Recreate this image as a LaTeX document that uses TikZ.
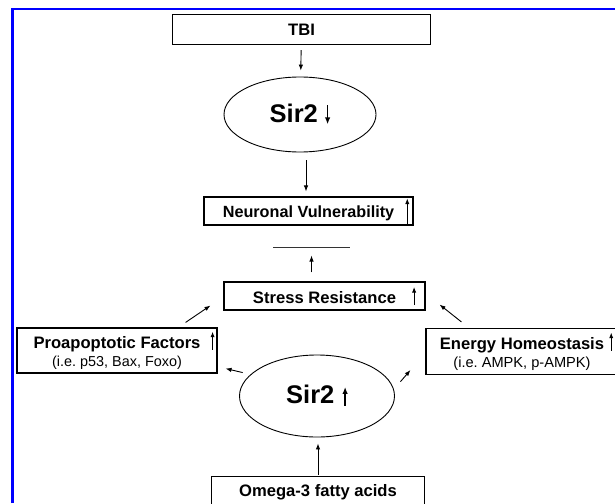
\documentclass[tikz,border=0pt]{standalone}
\usepackage{fontspec}
\setmainfont{Liberation Sans}
\usetikzlibrary{arrows,calc,arrows.meta,positioning,shapes.geometric}

% small arrow set inside a label
\newcommand{\upmark}[3][0.8pt]{\tikz[baseline=0pt]\draw[-{Latex[length=5.5pt,width=4.2pt]},line width=#1] (0pt,#2) -- (0pt,#3);}
\newcommand{\sirmark}[2]{\tikz[baseline=0pt]\draw[-{Latex[length=7pt,width=5.5pt]},line width=1.4pt] (0pt,#1) -- (0pt,#2);}

\begin{document}
\frenchspacing
\begin{tikzpicture}[>=latex, x=1pt, y=-1pt]
        \tikzset{
            box/.style={draw, line width=1.1pt, inner sep=0pt, align=center,
                font=\bfseries\fontsize{16.6}{18}\selectfont},
            oval/.style={draw, ellipse, line width=0.9pt, inner sep=0pt,
                font=\bfseries\fontsize{25.5}{28}\selectfont},
            conn/.style={-{Latex[length=6pt,width=4.5pt]}, line width=0.9pt}
        }
        \useasboundingbox (0,0) rectangle (615,503);
        \draw[blue, line width=2.6pt] (12.2,503) -- (12.2,9.2) -- (615,9.2);

        \node[box, minimum width=258pt, minimum height=30pt] (tbi) at (301.5,29.5) {TBI};
        \node[oval, minimum width=152pt, minimum height=75pt] (sirdown) at ($(tbi)+(-1.5,85)$)
            {Sir2\hspace{7pt}\sirmark{17pt}{-2pt}};
        \node[box, font=\bfseries\fontsize{16.2}{18}\selectfont, minimum width=209pt, minimum height=28pt]
            (neuro) at (308.5,211) {Neuronal Vulnerability\rlap{\hspace{11pt}\upmark{-6pt}{19pt}}};
        \node[box, minimum width=201pt, minimum height=28pt] (stress) at (324.5,296)
            {Stress Resistance\rlap{\hspace{16pt}\upmark{-2pt}{16pt}}};

        \node[box, minimum width=200pt, minimum height=45pt] (proapo) at (117,350.5)
            {Proapoptotic Factors\rlap{\hspace{10pt}\upmark{-1pt}{17pt}}\\
             {\mdseries\fontsize{14.4}{16}\selectfont (i.e. p53, Bax, Foxo)}};
        \node[box, minimum width=192pt, minimum height=46pt] (energy) at (522,351.5)
            {Energy Homeostasis\rlap{\hspace{5pt}\upmark{-1pt}{17pt}}\\
             {\mdseries\fontsize{14.6}{16}\selectfont (i.e. AMPK, p-AMPK)}};

        \node[oval, minimum width=155pt, minimum height=82pt] (sirup) at (317,396)
            {Sir2\hspace{8pt}\sirmark{-2pt}{17pt}};
        \node[box, minimum width=213pt, minimum height=32pt, anchor=north] (omega) at (318,476)
            {Omega-3 fatty acids};

        % top chain
        \draw[conn, shorten <=5pt, shorten >=6pt] (tbi) -- (sirdown);
        \draw[conn, shorten <=8pt, shorten >=5pt] ([xshift=6pt]sirdown.south) -- ([xshift=-2.5pt]neuro.north);

        % inhibition of vulnerability
        \coordinate (bar) at ($(neuro.south)+(3,22)$);
        \draw[line width=0.9pt, black!80] ($(bar)+(-38.5,0)$) -- ($(bar)+(38.5,0)$);
        \draw[conn, shorten <=9pt, shorten >=8pt] (stress.north -| bar) -- (bar);

        \draw[conn] ([xshift=-32pt,yshift=5pt]proapo.north east) -- ([xshift=-13pt,yshift=5pt]stress.south west);
        \draw[conn] ([xshift=36pt,yshift=6pt]energy.north west) -- ([xshift=14pt,yshift=6pt]stress.south east);

        % bottom part
        \draw[conn, shorten <=8pt] (sirup.162) -- ([xshift=8pt,yshift=5pt]proapo.south east);
        \draw[conn, shorten <=10pt] (sirup.5) -- ([xshift=-15pt,yshift=5pt]energy.south west);
        \draw[conn, shorten <=1pt, shorten >=6pt] (omega.north) -- (omega.north |- sirup.south);
    \end{tikzpicture}
\end{document}
